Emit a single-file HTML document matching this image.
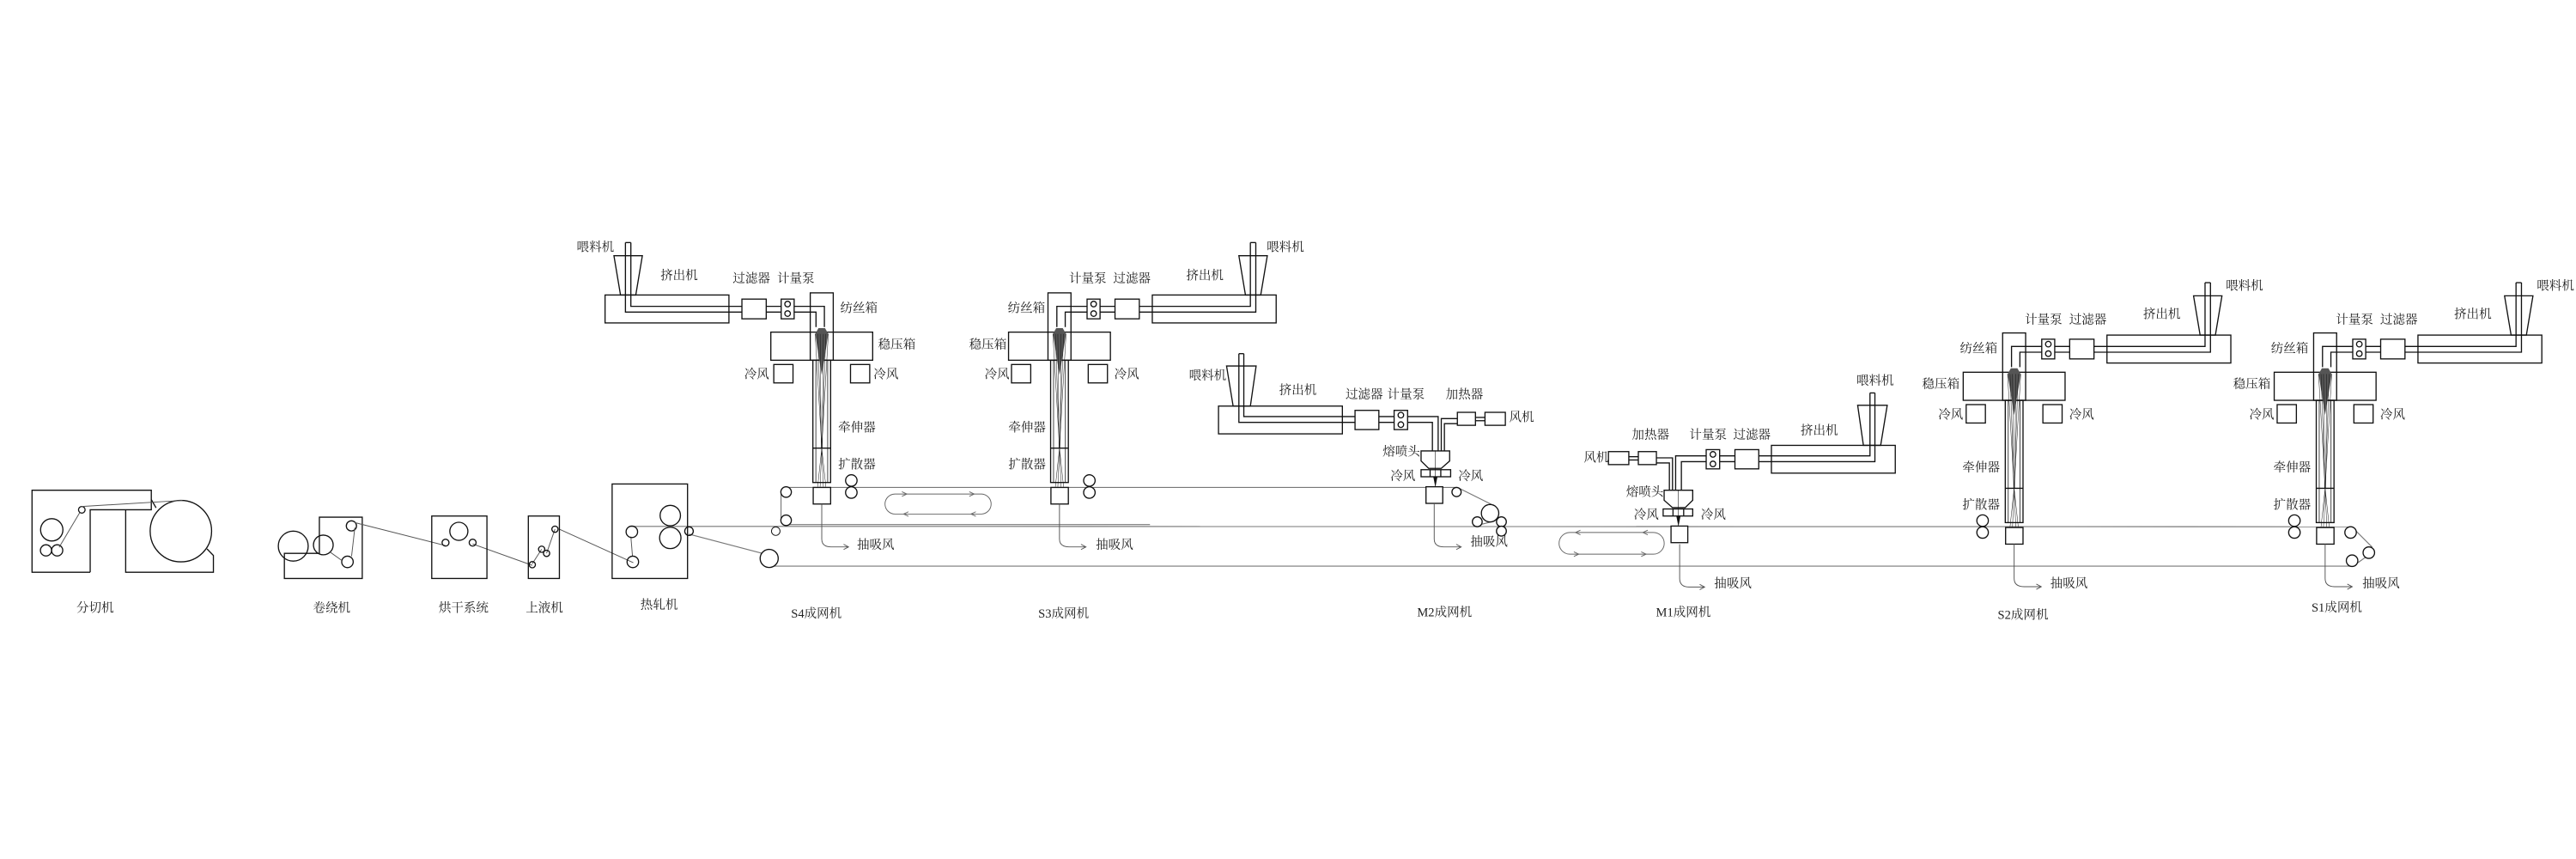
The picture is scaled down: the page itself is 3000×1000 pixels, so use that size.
<!DOCTYPE html>
<html><head><meta charset="utf-8"><style>
html,body{margin:0;padding:0;background:#fff;}
svg{display:block;}
text{font-family:"Liberation Serif","Noto Serif CJK SC","Noto Sans CJK SC",serif;font-size:7.6px;fill:#222;dominant-baseline:central;}
</style></head><body>
<svg width="3000" height="1000" viewBox="0 0 1568 522.7" preserveAspectRatio="none" xmlns="http://www.w3.org/2000/svg">
<defs>
<g id="spin" fill="none" stroke="#111" stroke-width="0.7">
  <rect x="-31" y="23.9" width="62" height="17.1" fill="#fff"/>
  <rect x="-7" y="0" width="14" height="41"/>
  <rect x="-29.2" y="43.6" width="11.7" height="11.2"/>
  <rect x="17.5" y="43.6" width="11.7" height="11.2"/>
  <rect x="-5.4" y="41" width="10.8" height="74.4"/>
  <line x1="-5.4" y1="94.5" x2="5.4" y2="94.5"/>
  <line x1="-3.6" y1="41" x2="-3.6" y2="115.4" stroke-width="0.4"/>
  <line x1="3.6" y1="41" x2="3.6" y2="115.4" stroke-width="0.4"/>
  <rect x="-5.2" y="118.4" width="10.6" height="10.1"/>
  <polygon points="-2,21.5 2,21.5 4,25 0,50 -4,25" fill="#555" stroke="none"/>
  <g stroke-width="0.25">
    <line x1="-4" y1="25" x2="0" y2="94.5"/><line x1="4" y1="25" x2="0" y2="94.5"/>
    <line x1="-2.5" y1="25" x2="0" y2="94.5"/><line x1="2.5" y1="25" x2="0" y2="94.5"/>
    <line x1="-1" y1="25" x2="-0.3" y2="94.5"/><line x1="1" y1="25" x2="0.3" y2="94.5"/>
    <line x1="0" y1="94.5" x2="-2.5" y2="118"/><line x1="0" y1="94.5" x2="2.5" y2="118"/>
    <line x1="0" y1="94.5" x2="-1" y2="118"/><line x1="0" y1="94.5" x2="1" y2="118"/>
  </g>
</g>
<g id="extS" fill="none" stroke="#111" stroke-width="0.7">
  <polygon points="373.7,155.6 391,155.6 387,179.5 377.7,179.5"/>
  <rect x="368.3" y="179.5" width="75.4" height="17"/>
  <polyline points="380.7,147.6 380.7,189.9 496.7,189.9 496.7,199"/>
  <polyline points="384,147.6 384,186.4 501.8,186.4 501.8,199"/>
  <line x1="380.7" y1="147.6" x2="384" y2="147.6"/>
  <rect x="451.6" y="182" width="14.8" height="12" fill="#fff"/>
  <rect x="475.5" y="182" width="7.9" height="12" fill="#fff"/>
  <circle cx="479.4" cy="185" r="1.7"/><circle cx="479.4" cy="190.8" r="1.7"/>
</g>
<g id="extM" fill="none" stroke="#111" stroke-width="0.7">
  <polygon points="746.6,222.7 764.6,222.7 761.1,247.1 750.6,247.1"/>
  <rect x="741.7" y="247.1" width="75.4" height="16.9"/>
  <polyline points="754.1,215.2 754.1,257 871.9,257 871.9,274.4"/>
  <polyline points="757.1,215.2 757.1,253.5 875.4,253.5 875.4,274.4"/>
  <line x1="754.1" y1="215.2" x2="757.1" y2="215.2"/>
  <polyline points="877.3,274.4 877.3,254.7 887.1,254.7"/>
  <polyline points="879.2,274.4 879.2,257.8 887.1,257.8"/>
  <line x1="898.1" y1="254" x2="903.9" y2="254"/><line x1="898.1" y1="256" x2="903.9" y2="256"/>
  <rect x="887.1" y="250.9" width="11" height="7.9" fill="#fff"/>
  <rect x="903.9" y="250.9" width="12.4" height="7.9" fill="#fff"/>
  <rect x="824.8" y="249.7" width="14.5" height="11.7" fill="#fff"/>
  <rect x="848.6" y="249.7" width="8.2" height="11.7" fill="#fff"/>
  <circle cx="852.7" cy="252.6" r="1.7"/><circle cx="852.7" cy="258.4" r="1.7"/>
  <polygon points="865,274.4 882.4,274.4 882.4,280.5 877.3,285 869.6,285 865,280.5" fill="#fff"/>
  <line x1="873.7" y1="274.4" x2="873.7" y2="296" stroke-width="0.3"/>
  <rect x="865" y="285.8" width="18" height="4.3"/>
  <line x1="870.5" y1="285.8" x2="870.5" y2="290.1"/><line x1="877" y1="285.8" x2="877" y2="290.1"/>
  <polygon points="872.4,290 875,290 873.7,296.5" fill="#111" stroke="none"/>
  <rect x="868" y="296.2" width="10.2" height="10.1" fill="#fff"/>
</g>
</defs>

<g stroke="#777" stroke-width="0.6" fill="none">
  <line x1="384" y1="320.3" x2="1431" y2="320.5"/>
  <line x1="478" y1="319.2" x2="700" y2="319.2"/>
  <line x1="468" y1="344.5" x2="1432" y2="344.5"/>
  <line x1="478.5" y1="296.6" x2="886.6" y2="296.6"/>
  <line x1="475.4" y1="299.4" x2="475.4" y2="316.6"/>
  <line x1="419.4" y1="325" x2="465" y2="337"/>
  <line x1="888" y1="297" x2="910" y2="308"/>
  <line x1="898" y1="320" x2="910" y2="317"/>
  <line x1="1432" y1="321" x2="1444" y2="333"/>
  <line x1="1433" y1="344" x2="1440" y2="339"/>
</g>

<g fill="none" stroke="#111" stroke-width="0.7">
  <polyline points="54.9,348.2 19.5,348.2 19.5,298.3 92.1,298.3 92.1,310.2 54.9,310.2 54.9,348.2"/>
  <polyline points="76.5,310.2 76.5,348.2 129.9,348.2 129.9,338 126,334"/>
  <line x1="92.1" y1="304" x2="95" y2="309"/>
  <circle cx="110.1" cy="323.2" r="18.7"/>
  <circle cx="31.5" cy="322.4" r="6.8"/>
  <circle cx="28" cy="334.9" r="3.4"/><circle cx="34.8" cy="334.9" r="3.4"/>
  <circle cx="49.8" cy="310.2" r="2"/>
  <polyline points="49.8,308.2 111,304.5" stroke="#555" stroke-width="0.5"/>
  <line x1="48.5" y1="312" x2="36" y2="333" stroke="#555" stroke-width="0.5"/>

  <polygon points="194.4,314.7 220.5,314.7 220.5,352 173.1,352 173.1,336.7 194.4,336.7"/>
  <circle cx="178.5" cy="332.3" r="9.1"/>
  <circle cx="196.8" cy="331.6" r="6"/>
  <circle cx="213.9" cy="320" r="3.1"/>
  <circle cx="211.5" cy="341.9" r="3.5"/>
  <g stroke="#555" stroke-width="0.5">
    <line x1="216" y1="321" x2="214" y2="338.5"/>
    <line x1="201" y1="336" x2="208" y2="341"/>
    <line x1="216" y1="318" x2="271.2" y2="332"/>
    <line x1="287.7" y1="331" x2="324" y2="344"/>
    <line x1="324" y1="343" x2="329.7" y2="334.2"/>
    <line x1="332.7" y1="336.7" x2="337.8" y2="322"/>
    <line x1="340.5" y1="322" x2="385.5" y2="342.4"/>
    <line x1="384" y1="326.5" x2="385" y2="338.5"/>
  </g>
  <rect x="262.8" y="314" width="33.6" height="38"/>
  <circle cx="279.3" cy="323.3" r="5.5"/>
  <circle cx="271.2" cy="330.2" r="2.1"/><circle cx="287.7" cy="330.2" r="2.1"/>
  <rect x="321.6" y="314" width="18.9" height="38"/>
  <circle cx="337.8" cy="322" r="1.9"/><circle cx="329.7" cy="334.2" r="1.9"/>
  <circle cx="332.7" cy="336.7" r="1.9"/><circle cx="324" cy="343.6" r="1.9"/>
  <rect x="372.6" y="294.5" width="45.9" height="57.5"/>
  <circle cx="384.6" cy="323.6" r="3.5"/><circle cx="385.2" cy="341.9" r="3.5"/>
  <circle cx="408" cy="313.7" r="6.2"/><circle cx="408" cy="327.3" r="6.5"/>
  <circle cx="419.4" cy="323.2" r="2.6"/>
  <circle cx="468.2" cy="339.8" r="5.5" fill="#fff"/>
  <circle cx="478.5" cy="299.4" r="3.2" fill="#fff"/>
  <circle cx="478.5" cy="316.6" r="3.2" fill="#fff"/>
  <circle cx="472.2" cy="323.2" r="2.6" fill="#fff" stroke-width="0.5"/>
</g>

<use href="#extS"/>
<use href="#extS" transform="translate(1145.1,0) scale(-1,1)"/>
<use href="#extS" transform="translate(1726.2,24.4) scale(-1,1)"/>
<use href="#extS" transform="translate(1915.5,24.4) scale(-1,1)"/>
<use href="#spin" transform="translate(500.2,178.2)"/>
<use href="#spin" transform="translate(644.9,178.2)"/>
<use href="#spin" transform="translate(1226,202.6)"/>
<use href="#spin" transform="translate(1415.3,202.6)"/>
<use href="#extM"/>
<use href="#extM" transform="translate(1895.35,23.9) scale(-1,1)"/>

<g fill="#fff" stroke="#111" stroke-width="0.7">
  <circle cx="518.2" cy="292.4" r="3.5"/><circle cx="518.2" cy="299.7" r="3.5"/>
  <circle cx="663.1" cy="292.4" r="3.5"/><circle cx="663.1" cy="299.7" r="3.5"/>
  <circle cx="1206.8" cy="316.8" r="3.5"/><circle cx="1206.8" cy="324" r="3.5"/>
  <circle cx="1396.6" cy="316.8" r="3.5"/><circle cx="1396.6" cy="324" r="3.5"/>
  <circle cx="1430.8" cy="324" r="3.5"/><circle cx="1441.9" cy="336.3" r="3.5"/><circle cx="1431.7" cy="341.2" r="3.5"/>
  <circle cx="886.6" cy="299.4" r="2.8"/><circle cx="907" cy="312.3" r="5.3"/>
  <circle cx="899.2" cy="317.5" r="3"/><circle cx="913.9" cy="317.5" r="3"/><circle cx="913.9" cy="323.2" r="3"/>
</g>

<g fill="none" stroke="#666" stroke-width="0.5">
  <rect x="538.7" y="300.6" width="64.6" height="12.2" rx="6.1"/>
  <path d="M549,299.2 L552,300.6 L549,302 M590,299.2 L593,300.6 L590,302"/>
  <path d="M553,311.4 L550,312.8 L553,314.2 M594,311.4 L591,312.8 L594,314.2"/>
  <rect x="949" y="324" width="64" height="13.2" rx="6.6"/>
  <path d="M962,322.6 L959,324 L962,325.4 M1003,322.6 L1000,324 L1003,325.4"/>
  <path d="M958,335.8 L961,337.2 L958,338.6 M999,335.8 L1002,337.2 L999,338.6"/>
</g>

<g fill="none" stroke="#555" stroke-width="0.5">
  <path d="M500.2,306.7 V328 Q500.2,332.8 506,332.8 H516.5 M513.5,331.2 L516.5,332.8 L513.5,334.4"/>
  <path d="M644.9,306.7 V328 Q644.9,332.8 651,332.8 H661 M658,331.2 L661,332.8 L658,334.4"/>
  <path d="M873,306.3 V328 Q873,332.8 879,332.8 H889.4 M886.4,331.2 L889.4,332.8 L886.4,334.4"/>
  <path d="M1022.4,331.1 V352 Q1022.4,357.2 1028,357.2 H1037.6 M1034.6,355.6 L1037.6,357.2 L1034.6,358.8"/>
  <path d="M1226,331 V352 Q1226,357 1232,357 H1242.5 M1239.5,355.4 L1242.5,357 L1239.5,358.6"/>
  <path d="M1415.3,331 V352 Q1415.3,357 1421,357 H1431.8 M1428.8,355.4 L1431.8,357 L1428.8,358.6"/>
</g>

<g>
<text x="46.5" y="370.3">分切机</text>
<text x="190.5" y="370.3">卷绕机</text>
<text x="267" y="370.3">烘干系统</text>
<text x="320" y="370.3">上液机</text>
<text x="389.8" y="368.5">热轧机</text>

<text x="351" y="150.7">喂料机</text>
<text x="402" y="168">挤出机</text>
<text x="446" y="170">过滤器</text>
<text x="473" y="170">计量泵</text>
<text x="511.4" y="188">纺丝箱</text>
<text x="534.5" y="210">稳压箱</text>
<text x="453" y="228.2">冷风</text>
<text x="531.7" y="228.2">冷风</text>
<text x="510.2" y="260.5">牵伸器</text>
<text x="510.2" y="283">扩散器</text>
<text x="521.6" y="332">抽吸风</text>
<text x="481.5" y="373.8">S4成网机</text>

<text x="771" y="150.7">喂料机</text>
<text x="722" y="168">挤出机</text>
<text x="677.6" y="170">过滤器</text>
<text x="650.7" y="170">计量泵</text>
<text x="613.4" y="188">纺丝箱</text>
<text x="589.9" y="210">稳压箱</text>
<text x="599.3" y="228.2">冷风</text>
<text x="678.2" y="228.2">冷风</text>
<text x="613.8" y="260.5">牵伸器</text>
<text x="613.8" y="283">扩散器</text>
<text x="667" y="332">抽吸风</text>
<text x="632" y="373.8">S3成网机</text>

<text x="723.7" y="229">喂料机</text>
<text x="778.6" y="237.8">挤出机</text>
<text x="819" y="240.5">过滤器</text>
<text x="844.4" y="240.5">计量泵</text>
<text x="880" y="240.5">加热器</text>
<text x="918.6" y="254.4">风机</text>
<text x="841.6" y="275.3">熔喷头</text>
<text x="846.3" y="290">冷风</text>
<text x="887.6" y="290">冷风</text>
<text x="895" y="330">抽吸风</text>
<text x="862.6" y="373">M2成网机</text>

<text x="964" y="278.8">风机</text>
<text x="993.3" y="264.9">加热器</text>
<text x="1028.3" y="264.9">计量泵</text>
<text x="1055" y="264.9">过滤器</text>
<text x="1096" y="262.5">挤出机</text>
<text x="1130" y="232">喂料机</text>
<text x="989.8" y="299.7">熔喷头</text>
<text x="994.5" y="313.6">冷风</text>
<text x="1035.3" y="313.6">冷风</text>
<text x="1043.4" y="355.5">抽吸风</text>
<text x="1008" y="373">M1成网机</text>

<text x="1354.8" y="174.2">喂料机</text>
<text x="1304.5" y="191.7">挤出机</text>
<text x="1232.5" y="195">计量泵</text>
<text x="1259.5" y="195">过滤器</text>
<text x="1193" y="212.6">纺丝箱</text>
<text x="1170" y="234.3">稳压箱</text>
<text x="1179.8" y="252.6">冷风</text>
<text x="1259.5" y="252.6">冷风</text>
<text x="1194.5" y="284.9">牵伸器</text>
<text x="1194.5" y="307.5">扩散器</text>
<text x="1248" y="355.5">抽吸风</text>
<text x="1216" y="374.6">S2成网机</text>

<text x="1544.1" y="174.2">喂料机</text>
<text x="1493.8" y="191.7">挤出机</text>
<text x="1421.8" y="195">计量泵</text>
<text x="1448.8" y="195">过滤器</text>
<text x="1382.3" y="212.6">纺丝箱</text>
<text x="1359.3" y="234.3">稳压箱</text>
<text x="1369.1" y="252.6">冷风</text>
<text x="1448.8" y="252.6">冷风</text>
<text x="1383.8" y="284.9">牵伸器</text>
<text x="1383.8" y="307.5">扩散器</text>
<text x="1437.9" y="355.5">抽吸风</text>
<text x="1407" y="370">S1成网机</text>
</g>
</svg>
</body></html>
